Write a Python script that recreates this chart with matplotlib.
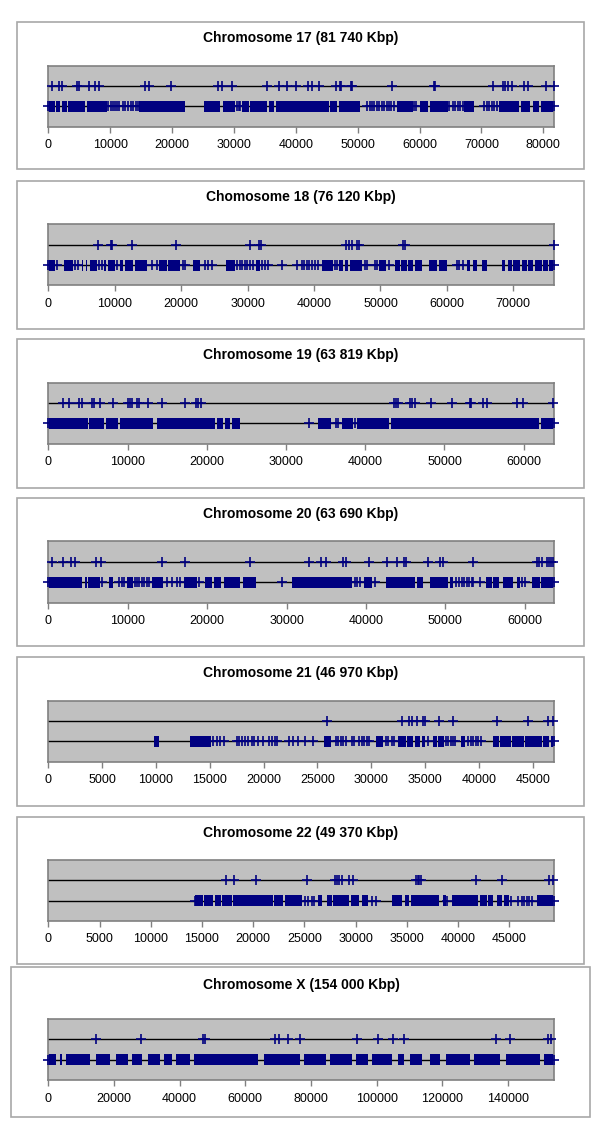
import matplotlib
matplotlib.use("Agg")
import matplotlib.pyplot as plt
from matplotlib.patches import Rectangle

plt.rcParams['font.family'] = ['Liberation Sans', 'DejaVu Sans']

NAVY = '#000080'

# ---- chromosome 17 ----
chr17_len = 81740
chr17_ticks = [0, 10000, 20000, 30000, 40000, 50000, 60000, 70000, 80000]
chr17_top = [550, 1780, 2220, 4600, 4970, 6640, 7570, 8160, 15670, 16200, 19880,
             27380, 28090, 29710, 35380, 37260, 38620, 39970, 41960, 42670, 43740,
             46450, 47150, 47370, 48880, 49150, 55630, 62370, 62500, 71830, 73450,
             73820, 74360, 74900, 76850, 77600, 80470, 81700]
chr17_bottom = [0, 9720, 10110, 10430, 10800, 11180, 11500, 12050, 12420, 12960, 13350,
                13770, 14200, 14530, 30520, 30840, 31060, 51580, 51950, 52280, 52650,
                53090, 53460, 53900, 54270, 54710, 55080, 55470, 55890, 59130, 59410,
                64800, 65350, 65720, 66160, 66580, 66970, 70470, 70910, 71280, 71670,
                72090, 72530, 81740]
chr17_blocks = [(0, 1080), (1250, 1900), (2170, 2980), (3240, 5950), (6320, 9460),
                (14740, 20250), (20360, 22150), (25220, 27810), (28250, 30250),
                (31330, 32400), (32680, 35380), (35640, 36450), (36730, 45360),
                (45520, 46720), (46980, 50380), (56330, 58870), (60100, 61300),
                (61720, 64540), (67230, 68850), (72900, 76140), (76420, 77920),
                (78310, 79380), (79650, 81740)]

# ---- chromosome 18 ----
chr18_len = 76120
chr18_ticks = [0, 10000, 20000, 30000, 40000, 50000, 60000, 70000]
chr18_top = [7430, 9390, 9540, 12640, 19170, 30360, 31760, 31960, 44750, 45250,
             45750, 46410, 46810, 53330, 53690, 76100]
chr18_bottom = [0, 1260, 4020, 4520, 7680, 8040, 10390, 15560, 16310, 20230, 20570,
                23580, 24080, 24590, 28450, 28850, 29200, 29600, 29950, 30350, 30760,
                32210, 32610, 33110, 35120, 37380, 38120, 38480, 38890, 39280, 39640,
                40140, 40640, 43150, 43500, 47660, 48010, 49170, 49510, 51320, 61470,
                61860, 62460, 76120]
chr18_blocks = [(0, 1010), (2360, 3670), (5030, 5270), (5670, 5870), (6280, 7280),
                (8380, 8680), (9030, 10040), (10790, 11200), (11540, 12790),
                (13040, 14800), (16710, 17820), (18060, 19820), (21730, 22830),
                (26740, 28100), (31260, 31860), (41150, 42890), (43800, 44400),
                (44650, 45150), (45400, 47170), (49820, 50820), (52180, 52930),
                (53040, 53940), (54180, 54930), (55190, 56190), (57340, 58450),
                (58850, 59960), (62970, 63470), (63960, 64470), (65220, 65980),
                (68230, 68740), (69230, 69740), (69980, 70990), (71240, 72000),
                (72240, 72990), (73250, 74250), (74500, 75250), (75400, 76000)]

# ---- chromosome 19 ----
chr19_len = 63819
chr19_ticks = [0, 10000, 20000, 30000, 40000, 50000, 60000]
chr19_top = [1890, 2610, 3870, 4210, 5470, 5760, 6520, 8200, 10100, 10300, 10520,
             11150, 11490, 12620, 14310, 17250, 18640, 18930, 19230, 43660, 43880,
             44130, 45650, 45900, 46280, 48260, 50950, 53220, 53340, 54820, 55400,
             59190, 59940, 63650]
chr19_bottom = [0, 32940, 36310, 36600, 38700, 63819]
chr19_blocks = [(0, 5050), (5170, 7030), (7280, 8830), (9050, 13250), (13680, 21040),
                (21250, 22090), (22300, 22930), (23140, 24190), (34080, 35640),
                (37030, 38490), (39000, 43030), (43210, 61960), (62140, 63819)]

# ---- chromosome 20 ----
chr20_len = 63690
chr20_ticks = [0, 10000, 20000, 30000, 40000, 50000, 60000]
chr20_top = [430, 1890, 2820, 3360, 5960, 6590, 14270, 17210, 25390, 32820, 34300,
             34930, 37140, 37440, 40410, 42680, 43860, 44780, 45040, 47840, 49310,
             49730, 53510, 61490, 61820, 62120, 62830, 63080, 63370, 63580]
chr20_bottom = [0, 6720, 8940, 9240, 9530, 10920, 11210, 11460, 11760, 12050, 12390,
                12720, 14910, 15540, 16170, 16580, 19010, 29380, 38610, 38900, 39240,
                41130, 51320, 51740, 52050, 52340, 52670, 53000, 53300, 53510, 54350,
                59600, 60010, 63690]
chr20_blocks = [(0, 4200), (4620, 4910), (5040, 6510), (7680, 8110), (9870, 10630),
                (13020, 13650), (13720, 14480), (17120, 18680), (19730, 20570),
                (20860, 21700), (22120, 24140), (24550, 26150), (30640, 38200),
                (39740, 40720), (42510, 46170), (46460, 47210), (48050, 50360),
                (50570, 50990), (55100, 55820), (56020, 56790), (57280, 58540),
                (58970, 59390), (60860, 61910), (61990, 63690)]

# ---- chromosome 21 ----
chr21_len = 46970
chr21_ticks = [0, 5000, 10000, 15000, 20000, 25000, 30000, 35000, 40000, 45000]
chr21_top = [25860, 32890, 33510, 33760, 34280, 34780, 35000, 36320, 37620, 41710,
             44540, 46450, 46920]
chr21_bottom = [15270, 15700, 15950, 16320, 17560, 17740, 17970, 18270, 18580, 18900,
                19110, 19510, 19970, 20530, 20750, 21060, 21220, 22390, 22700, 23230,
                23850, 24620, 26730, 26940, 27160, 27350, 27660, 28180, 28400, 28890,
                29110, 29330, 29580, 29760, 31370, 31590, 31900, 32120, 35300, 36950,
                37160, 37380, 37620, 37780, 39020, 39240, 39480, 39730, 39950, 40170,
                46970]
chr21_blocks = [(9820, 10290), (13160, 15090), (25610, 26230), (30440, 31060),
                (32520, 33230), (33300, 33910), (34070, 34530), (34690, 35000),
                (35770, 36140), (36230, 36760), (38310, 38710), (41340, 41900),
                (41960, 42960), (43050, 44190), (44290, 45840), (45990, 46540),
                (46670, 46970)]

# ---- chromosome 22 ----
chr22_len = 49370
chr22_ticks = [0, 5000, 10000, 15000, 20000, 25000, 30000, 35000, 40000, 45000]
chr22_top = [17340, 18120, 20270, 25280, 27980, 28210, 28400, 28640, 29350, 29770,
             35860, 36120, 36220, 36350, 41720, 44250, 48870, 49290]
chr22_bottom = [14320, 25050, 25380, 25700, 25930, 31560, 31980, 38940, 45130, 45870,
                46200, 46430, 46690, 46950, 47180, 49370]
chr22_blocks = [(14320, 15070), (15200, 16100), (16270, 16830), (16920, 17900),
                (18060, 21960), (22030, 22940), (23100, 24730), (26350, 26680),
                (27230, 27660), (27760, 29380), (29510, 30350), (30590, 31230),
                (33520, 34490), (34810, 35230), (35370, 38160), (38490, 38810),
                (39370, 41970), (42130, 42790), (42940, 43370), (43760, 44250),
                (44480, 44990), (47670, 49350)]

# ---- chromosome X ----
chrX_len = 154000
chrX_ticks = [0, 20000, 40000, 60000, 80000, 100000, 120000, 140000]
chrX_top = [14520, 28230, 47110, 47720, 69030, 70250, 72990, 76640, 94000, 100400,
            104960, 108310, 136320, 140580, 152160, 153080]
chrX_bottom = [0, 154000]
chrX_blocks = [(0, 2400), (3600, 4200), (5400, 12800), (14500, 18800), (20600, 24300),
               (25500, 28500), (30400, 34000), (35200, 37700), (38900, 43100),
               (44400, 63900), (65700, 76700), (77900, 84600), (85800, 92500),
               (93700, 97300), (98600, 104600), (106400, 108300), (110100, 113800),
               (116200, 119300), (121100, 128400), (129600, 137500), (139400, 149700),
               (150900, 154000)]

titles = ["Chromosome 17 (81 740 Kbp)", "Chomosome 18 (76 120 Kbp)",
          "Chromosome 19 (63 819 Kbp)", "Chromosome 20 (63 690 Kbp)",
          "Chromosome 21 (46 970 Kbp)", "Chromosome 22 (49 370 Kbp)",
          "Chromosome X (154 000 Kbp)"]
lengths = [chr17_len, chr18_len, chr19_len, chr20_len, chr21_len, chr22_len, chrX_len]
ticks = [chr17_ticks, chr18_ticks, chr19_ticks, chr20_ticks, chr21_ticks, chr22_ticks, chrX_ticks]
tops = [chr17_top, chr18_top, chr19_top, chr20_top, chr21_top, chr22_top, chrX_top]
bottoms = [chr17_bottom, chr18_bottom, chr19_bottom, chr20_bottom, chr21_bottom,
           chr22_bottom, chrX_bottom]
blocks = [chr17_blocks, chr18_blocks, chr19_blocks, chr20_blocks, chr21_blocks,
          chr22_blocks, chrX_blocks]

# layout in pixels (top of each panel box)
W, H = 600, 1126
box_top = [22, 181, 339, 498, 657, 817, 967]
box_left = [17, 17, 17, 17, 17, 17, 11]
box_right = [584, 584, 584, 584, 584, 584, 590]
box_h = [147, 148, 149, 148, 149, 147, 150]
plot_off = [43.5, 43.5, 43.5, 43.5, 43.5, 43.0, 52.0]
title_off = [16, 16, 16, 16, 16, 16, 18]


def fig_rect(x0, y0, w, h):
    return [x0 / W, 1 - (y0 + h) / H, w / W, h / H]


fig = plt.figure(figsize=(W / 100, H / 100), dpi=100)
fig.patch.set_facecolor('white')

for i in range(7):
    t = box_top[i]
    fig.add_artist(Rectangle((box_left[i] / W, 1 - (t + box_h[i]) / H),
                             (box_right[i] - box_left[i]) / W, box_h[i] / H,
                             transform=fig.transFigure, fill=False,
                             ec='#a8a8a8', lw=1.2))
    fig.text(301 / W, 1 - (t + title_off[i]) / H, titles[i], ha='center', va='center',
             fontsize=10, fontweight='bold')

    ax = fig.add_axes(fig_rect(48.3, t + plot_off[i], 505.7, 61))
    ax.set_facecolor('#c0c0c0')
    ax.set_xlim(0, lengths[i])
    ax.set_ylim(0, 3)
    for s in ax.spines.values():
        s.set_color('#808080')
        s.set_linewidth(1.2)
    ax.set_yticks([])
    ax.set_xticks(ticks[i])
    ax.set_xticklabels([str(v) for v in ticks[i]])
    ax.tick_params(axis='x', direction='out', length=4, width=1, color='#808080',
                   labelsize=9, pad=5)

    ax.axhline(2, color='black', lw=1, zorder=1)
    ax.axhline(1, color='black', lw=1, zorder=1)
    ax.broken_barh([(s, e - s) for s, e in blocks[i]], (1 - 0.27, 0.54),
                   facecolor=NAVY, edgecolor='none', zorder=2)
    ax.plot(tops[i], [2] * len(tops[i]), linestyle='none', marker='+', color=NAVY,
            ms=7.5, mew=1.2, clip_on=False, zorder=3)
    ax.plot(bottoms[i], [1] * len(bottoms[i]), linestyle='none', marker='+', color=NAVY,
            ms=7.5, mew=1.2, clip_on=False, zorder=3)

fig.savefig('out.png', dpi=100)
